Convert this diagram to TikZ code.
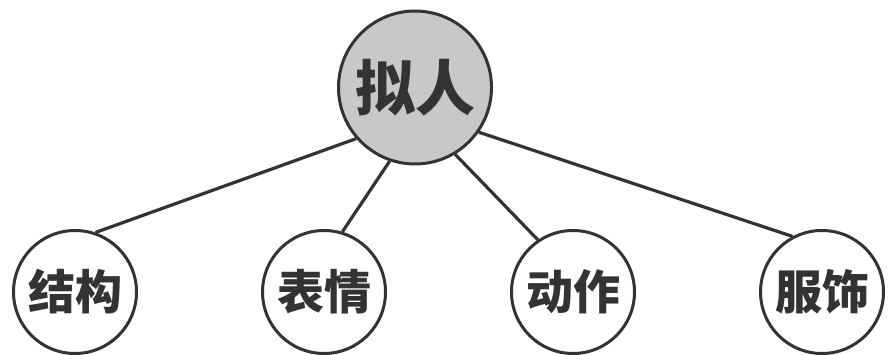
\documentclass[tikz,border=0pt]{standalone}
\usepackage{fontspec}
\usepackage{tikz}
\usetikzlibrary{positioning}
\newfontfamily\cjk{Noto Sans CJK SC}
\definecolor{ink}{HTML}{333333}
\definecolor{shade}{HTML}{C8C8C8}
\tikzset{
  root/.style={circle, draw=ink, fill=shade, line width=3pt, inner sep=0pt,
    minimum size=153pt, text=ink, font=\cjk\bfseries\fontsize{60}{62}\selectfont},
  leaf/.style={circle, draw=ink, fill=white, line width=3pt, inner sep=0pt,
    minimum size=123pt, text=ink, font=\cjk\bfseries\fontsize{47}{49}\selectfont},
  link/.style={draw=ink, line width=3.2pt}
}
\begin{document}
\begin{tikzpicture}[x=1pt, y=-1pt, node distance=249pt]
    \useasboundingbox (0,0) rectangle (890,355);

    \node[root] (nr) at (415,87.5) {拟人};
    \node[leaf] (jg) at (75,292) {结构};
    \node[leaf, right of=jg] (bq) {表情};
    \node[leaf, right of=bq] (dz) {动作};
    \node[leaf, right of=dz] (fs) {服饰};

    \path[link]
        (nr.221) edge (jg.71)
        (nr.251) edge (bq.73)
        (nr.301) edge (dz.124)
        (nr.325) edge (fs.118);

\end{tikzpicture}
\end{document}
